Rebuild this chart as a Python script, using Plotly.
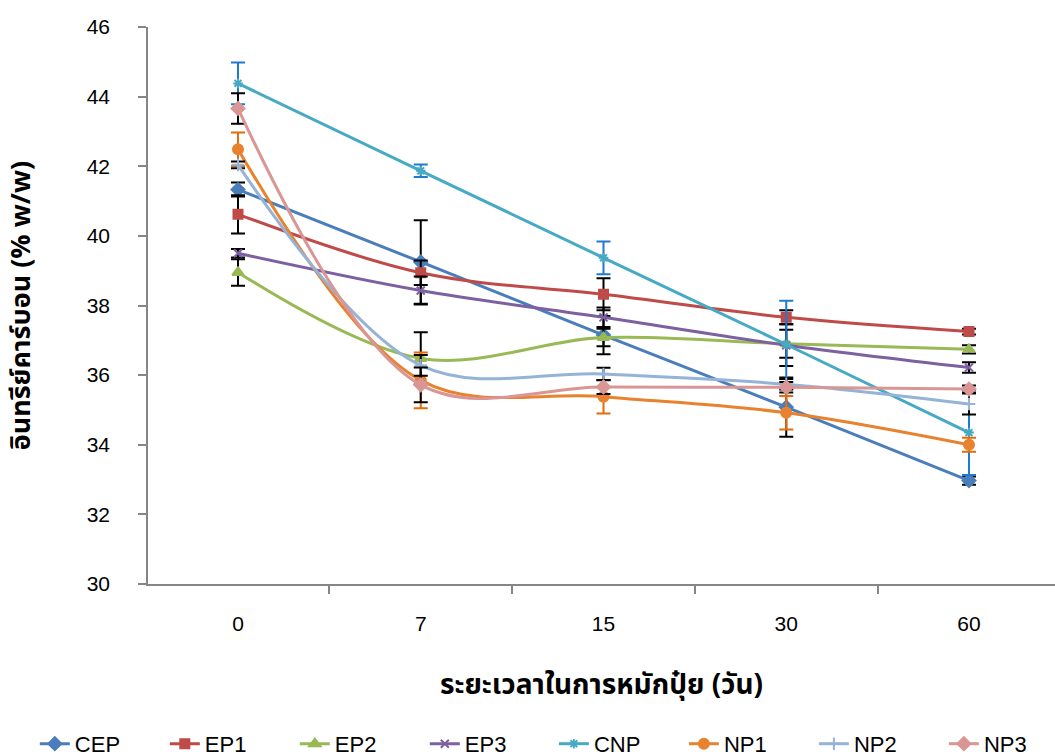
import plotly.graph_objects as go

# Composting time (days) and organic carbon content (% w/w) per treatment
days = ["0", "7", "15", "30", "60"]

cep = [41.33, 39.25, 37.15, 35.08, 32.97]
ep1 = [40.62, 38.94, 38.32, 37.66, 37.25]
ep2 = [38.95, 36.48, 37.08, 36.90, 36.74]
ep3 = [39.50, 38.43, 37.66, 36.86, 36.22]
cnp = [44.38, 41.87, 39.37, 36.88, 34.35]
np1 = [42.49, 35.85, 35.38, 34.92, 34.00]
np2 = [42.04, 36.28, 36.03, 35.74, 35.17]
np3 = [43.66, 35.72, 35.66, 35.65, 35.60]

# Standard deviations
cep_sd = [0.20, 1.20, 0.55, 0.85, 0.12]
ep1_sd = [0.55, 0.35, 0.46, 0.20, 0.08]
ep2_sd = [0.38, 0.75, 0.25, 0.40, 0.12]
ep3_sd = [0.12, 0.40, 0.28, 0.60, 0.15]
cnp_sd = [0.60, 0.18, 0.47, 1.26, 1.22]
np1_sd = [0.48, 0.80, 0.48, 0.48, 0.20]
np2_sd = [0.10, 0.30, 0.18, 0.15, 0.30]
np3_sd = [0.44, 0.50, 0.20, 0.15, 0.10]

# name, values, sd, line colour, marker, marker size, error-bar colour, legend group
series = [
    ("CEP", cep, cep_sd, "#4A7EBB", "diamond", 10, "#000000", "legend"),
    ("EP1", ep1, ep1_sd, "#BE4B48", "square", 9, "#000000", "legend"),
    ("EP2", ep2, ep2_sd, "#98B954", "triangle-up", 10, "#000000", "legend"),
    ("EP3", ep3, ep3_sd, "#7D60A0", "x-thin", 8, "#000000", "legend"),
    ("CNP", cnp, cnp_sd, "#46AAC5", "asterisk", 8, "#1F7BD0", "legend2"),
    ("NP1", np1, np1_sd, "#E8822F", "circle", 10, "#E46C0A", "legend2"),
    ("NP2", np2, np2_sd, "#95B3D7", "cross-thin", 9, "#000000", "legend2"),
    ("NP3", np3, np3_sd, "#D99694", "diamond", 10, "#000000", "legend2"),
]

font_main = "Liberation Sans, Arial, sans-serif"
font_thai = "Tahoma, Noto Sans Thai, Loma, Garuda, Liberation Sans, sans-serif"

fig = go.Figure()
for name, vals, sd, color, symbol, size, ecolor, leg in series:
    fig.add_trace(go.Scatter(
        x=days, y=vals, name=name, mode="lines+markers", legend=leg,
        line=dict(color=color, width=3, shape="spline", smoothing=1.0),
        marker=dict(symbol=symbol, size=size, color=color,
                    line=dict(color=color, width=2)),
        error_y=dict(type="data", array=sd, visible=True,
                     color=ecolor, thickness=2, width=7),
    ))

legend_style = dict(
    orientation="h", xref="container", yref="container",
    xanchor="left", y=0.016, yanchor="middle",
    entrywidth=85, entrywidthmode="pixels",
    font=dict(family=font_main, size=22),
    itemclick=False, bgcolor="rgba(0,0,0,0)",
    tracegroupgap=0,
)

fig.update_layout(
    width=1055, height=756,
    margin=dict(l=148, r=0, t=27, b=172),
    paper_bgcolor="white", plot_bgcolor="white",
    font=dict(family=font_main, size=21, color="#000000"),
    showlegend=True,
    legend=dict(x=0.033, **legend_style),
    legend2=dict(x=0.525, **legend_style),
    xaxis=dict(
        type="category", range=[-0.4925, 4.4706],
        showline=True, linecolor="#868686", linewidth=1.5,
        ticks="outside", tickson="boundaries", ticklen=8,
        tickcolor="#868686", tickwidth=1.5,
        showgrid=False, zeroline=False,
        tickfont=dict(size=21),
        ticklabelstandoff=20,
        title=dict(text="<b>ระยะเวลาในการหมักปุ๋ย (วัน)</b>",
                   font=dict(family=font_thai, size=28), standoff=40),
    ),
    yaxis=dict(
        range=[30, 46], tickvals=[30, 32, 34, 36, 38, 40, 42, 44, 46],
        showline=True, linecolor="#868686", linewidth=1.5,
        ticks="outside", ticklen=8, tickcolor="#868686", tickwidth=1.5,
        showgrid=False, zeroline=False,
        tickfont=dict(size=21),
        ticklabelstandoff=24,
        title=dict(text="<b>อินทรีย์คาร์บอน (% w/w)</b>",
                   font=dict(family=font_thai, size=27), standoff=48),
    ),
)

fig.write_html("out.html")
